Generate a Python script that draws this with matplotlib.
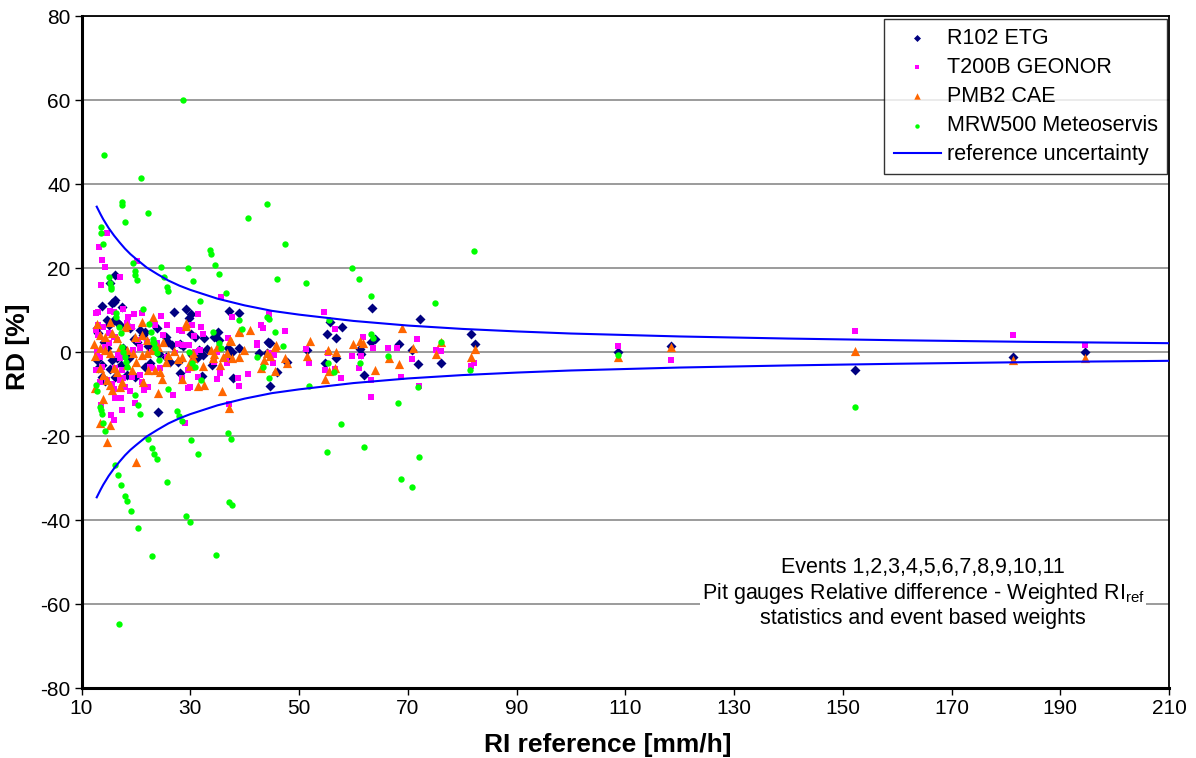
import numpy as np
import matplotlib
matplotlib.use("Agg")
import matplotlib.pyplot as plt

plt.rcParams["font.family"] = ["Liberation Sans", "DejaVu Sans"]
plt.rcParams["axes.unicode_minus"] = False

# R102 ETG (RI reference [mm/h], RD [%])
etg_ri = [13.7, 15.6, 15.9, 16.2, 16.1, 15.2, 27.1, 29.2, 30.1, 29.8, 37.2, 39.0, 35.1, 44.3, 17.4,
          12.8, 13.8, 14.4, 14.7, 15.1, 15.9, 16.5, 18.9, 20.8, 21.7, 23.8, 25.6, 25.9, 28.1, 28.7,
          30.1, 30.9, 31.6, 32.4, 35.2, 37.0, 37.6, 44.7, 28.1, 24.0, 37.8, 32.1, 18.3, 19.8, 13.1,
          13.7, 16.5, 21.7, 22.6, 25.6, 26.2, 30.3, 31.2, 33.0, 34.0, 36.7, 44.1, 45.9, 63.5, 72.2,
          55.2, 55.7, 56.8, 57.9, 81.6, 82.3, 68.3, 56.8, 54.8, 71.9, 76.2, 63.2, 63.9, 61.2, 62.0,
          47.8, 44.7, 61.4, 51.4, 70.8, 12.8, 13.1, 17.1, 20.2, 21.4, 14.7, 26.6, 27.7, 16.2, 32.5,
          34.3, 39.0, 42.6, 44.4, 14.1, 15.7, 17.7, 18.7, 19.7, 22.2, 24.2, 17.2, 15.2,
          108.7, 118.4, 152.3, 181.3, 194.5]
etg_rd = [11, 11.6, 12, 12.4, 18.3, 16.5, 9.5, 10.2, 9, 8, 9.8, 9.2, 4.8, 2.3, 10.8,
          -1.9, -5.9, -7, 7.6, 6.4, 7.6, 7.2, 5.6, 5.2, 4.8, 5.6, 3.5, 2.5, 1.8, 1.4,
          4.3, 3.5, 0.5, -0.7, 2.9, 0.9, 0.1, -8, -4.9, -14.4, -6.3, -5.7, -5.5, -5.9, -3.9,
          -3.1, -1.5, -3.5, -2.7, -1.1, -2.3, -0.7, -1.5, 0.6, -3.1, -1.7, -0.3, -4.7, 10.5, 7.9,
          4.4, 7.2, 3.4, 5.9, 4.2, 2, 1.9, -1.4, -2.7, -2.9, -2.5, 2.5, 3.1, 0.7, -5.4,
          -2.3, 2.1, -0.5, 0.5, 0.5, 5.6, 4.5, 6.4, 2.5, 4, 0.9, 1.7, -2.3, -5.9, 3.3,
          3.5, 0.9, -0.2, 2.2, 2.5, -2, 1, -1.5, 3, 1.5, -0.5, -3, -4,
          0, 1.5, -4.4, -1.3, 0]

# T200B GEONOR
geonor_ri = [14.7, 13.2, 13.7, 14.4, 13.6, 17.0, 20.2, 35.6, 12.6, 13.1, 17.6, 19.7, 21.1, 24.6, 31.4,
             37.6, 44.5, 25.8, 28.0, 28.4, 30.3, 31.9, 32.4, 43.0, 43.3, 42.3, 27.7, 30.7, 12.6, 13.4,
             16.2, 17.2, 15.4, 15.9, 17.5, 13.5, 18.9, 19.8, 21.5, 22.3, 26.8, 29.5, 30.0, 29.0, 34.9,
             38.9, 37.2, 36.7, 42.2, 45.3, 34.3, 29.6, 30.5, 27.2, 25.7, 23.8, 19.5, 20.8, 17.7, 17.1,
             14.4, 15.0, 12.6, 13.1, 15.9, 16.5, 22.9, 21.1, 17.7, 16.0, 37.0, 29.8, 30.9, 31.8, 34.9,
             36.6, 44.4, 45.4, 35.4, 31.5, 38.7, 40.7, 54.6, 56.6, 47.4, 61.8, 63.7, 66.3, 68.1, 51.2,
             59.8, 61.4, 51.9, 55.4, 54.8, 56.6, 61.0, 57.7, 63.2, 63.3, 71.7, 75.2, 76.1, 70.7, 82.1,
             81.6, 68.7, 72.0, 15.3, 15.9, 18.5, 13.1, 14.0, 18.3, 19.2, 23.5, 25.0, 15.0, 16.2,
             20.4, 22.0, 28.7, 12.8, 13.4, 20.8, 22.9, 16.8, 18.0, 13.7, 16.2, 17.4, 19.2, 20.8, 22.6,
             24.4, 28.4, 14.7, 15.6, 17.1, 18.0,
             108.7, 118.4, 152.3, 181.3, 194.5]
geonor_rd = [28.3, 24.9, 21.8, 20.3, 15.9, 17.9, 21.7, 13.2, 9.2, 9.6, 10.3, 9, 9.4, 8.6, 9,
             8.4, 9, 6.4, 5.2, 5, 6.4, 6, 4.3, 6.4, 5.6, 2.1, 1.9, 3.9, -4.3, -7.1,
             -11, -11, -15, -16.2, -13.8, -12.6, -9.4, -12.2, -9, -8.3, -10.2, -8.6, -8.3, -16.8, -6.4,
             -8.1, -12.4, -2.7, 1.7, -2.7, -2.3, -4.3, -0.3, -0.3, -1.1, 2.1, 0.5, 1.3, -0.3, -1.5,
             1.3, 2.1, 5.2, 4, 3.6, 2.9, -3.9, -7.1, -6.3, -8.9, 3.3, 1.7, 0.1, 0.5, 0.1,
             -1.3, -0.3, -0.7, -4.9, -6, -6.1, -5.3, 9.5, 5.4, 5, 3.5, 1, 0.9, 0.9, 0.7,
             -1, -0.9, -2.6, -0.3, -4.4, -4.1, -3.7, -6.1, -6.7, -10.8, 3.1, 0.5, 0.2, -1.7, -2.7,
             -3.3, -5.9, -8.1, 9.8, 9.5, 8.3, 6.4, 6, 6.8, 6, 6.4, 4, 4.5, 3.6,
             2.9, 2.5, 1.7, 0.1, -1.1, 0.9, 0.1, -0.7, -1.1, -3.6, -3.9, -4.3, -5.9, -5.5, -3.5,
             -3.9, -6.3, -6.7, -7.5, -6.7, -8.3,
             1.4, -2, 5, 4, 1.7]

# PMB2 CAE
cae_ri = [12.8, 15.3, 18.0, 18.3, 23.2, 21.1, 29.3, 29.2, 38.9, 40.9, 39.8, 37.5, 45.6, 43.5, 45.5,
          43.1, 34.9, 35.4, 34.2, 36.1, 36.7, 37.6, 35.8, 37.2, 31.5, 32.5, 28.5, 27.7, 30.5, 30.0,
          32.4, 27.1, 25.9, 25.6, 24.1, 25.0, 24.8, 24.0, 23.5, 24.4, 21.4, 22.2, 20.1, 14.7, 13.4,
          15.3, 13.9, 15.2, 15.6, 17.1, 17.4, 14.0, 14.7, 13.4, 15.9, 16.5, 18.3, 19.2, 20.1, 21.1,
          22.0, 22.9, 13.4, 14.4, 15.3, 17.1, 18.3, 19.5, 13.4, 14.4, 15.6, 16.5, 19.8, 21.1, 22.0,
          39.0, 37.3, 33.8, 34.3, 39.0, 30.5, 30.0, 28.4, 44.2, 44.6, 45.8, 52.1, 51.4, 47.4, 47.8,
          55.4, 56.8, 54.8, 55.6, 56.6, 59.9, 61.2, 61.8, 63.9, 66.6, 68.3, 68.9, 70.9, 76.1, 75.2,
          81.7, 82.3, 12.3, 12.5, 12.4,
          108.7, 118.4, 152.3, 181.3, 194.5]
cae_rd = [6.7, 7.2, 6, 6.4, 8.4, 7.2, 6.8, 6.2, 4.8, 5.2, 0.5, 2.7, 1.3, -1.9, -4.5,
          -3.9, 1.3, -3.1, -1.5, -1.1, -0.3, -1.5, -9.2, -13.3, -8.1, -7.9, -6.4, -1.7, -0.3, -3.3,
          -3.3, 0.3, -0.7, -2.3, 1.3, 2.5, -6.4, -9.8, -4.3, -4.7, -7.1, -4.3, -26.1, -21.4, -16.8,
          -17.4, -11.3, -7.9, -9, -8.4, -7.1, -5.5, -6.7, -3.9, -3.9, -4.7, -3.1, -4.3, -2.3, -0.7,
          -0.3, 0.5, 0.9, 0.5, -0.3, 1.3, 0.5, -0.3, 4, 3.6, 4.5, 3.3, 3.6, 4, 2.9,
          5.1, 2.9, 0.5, -0.5, -1.3, -1.5, -2.3, -1.1, -0.2, -1, 1.7, 2.7, -1, -1.5, -2.5,
          0.5, 0.1, -6.4, -4.5, -3.9, 1.9, 2.7, 2.1, -4.3, -1.5, -2.9, 5.8, 0.9, 2.5, -0.5,
          -1.1, 0.7, 2, -1, -8.5,
          -1.3, 1.1, 0.2, -1.9, -1.4]

# MRW500 Meteoservis
mrw_ri = [28.7, 14.2, 20.9, 17.4, 17.5, 22.2, 18.0, 13.5, 13.6, 14.0, 44.2, 40.7, 33.6, 33.9, 34.5,
          35.2, 36.6, 29.6, 30.5, 31.8, 24.6, 25.1, 25.7, 25.9, 19.4, 19.8, 19.9, 20.2, 15.0, 15.2,
          15.4, 15.4, 45.9, 21.4, 16.3, 44.1, 44.4, 38.9, 45.6, 39.6, 34.2, 47.4, 59.8, 61.0, 63.3,
          51.3, 82.1, 75.1, 55.6, 63.2, 63.7, 76.1, 47.1, 66.4, 55.3, 61.3, 56.5, 81.5, 51.9, 71.8,
          68.2, 57.7, 61.9, 55.1, 72.0, 68.7, 70.7, 16.3, 22.4, 22.7, 16.9, 17.2, 23.2, 23.3, 17.5,
          17.7, 18.0, 18.2, 18.4, 23.9, 24.2, 12.6, 12.8, 25.9, 19.8, 20.3, 13.4, 13.5, 13.7, 20.8,
          27.6, 28.0, 28.4, 14.0, 14.4, 22.3, 30.1, 37.0, 37.5, 23.0, 23.4, 23.8, 31.4, 16.1, 16.7,
          17.3, 25.8, 18.0, 18.3, 19.1, 37.1, 37.6, 29.3, 30.0, 20.4, 23.0, 34.7, 16.9, 23.1, 23.5,
          35.2, 35.6, 29.8, 30.4, 30.8, 42.3, 43.4, 44.5, 31.9,
          108.7, 152.3]
mrw_rd = [60, 47, 41.4, 35.6, 35, 33.2, 31, 29.8, 28.3, 25.6, 35.2, 31.8, 24.4, 23.3, 20.7,
          18.5, 14.1, 20, 17, 12.1, 20.3, 17.9, 15.4, 14.6, 21.3, 19.4, 18.4, 17.1, 17.9, 16.4,
          15.5, 15, 17.3, 10.2, 9.4, 8.4, 7.9, 7.6, 4.8, 5.4, 4.8, 25.8, 20.1, 17.5, 13.3,
          16.5, 24, 11.6, 7.6, 4.2, 3.3, 2.5, 1.4, -0.9, -2.7, -2.5, -4.7, -4.4, -8, -8.3,
          -12.1, -17.1, -22.5, -23.9, -25.1, -30.2, -32.1, 8.3, 6.7, 4.8, 6, 4.5, 2.5, 2.1, 1.2,
          0, -1.2, -2.4, -3.6, -0.3, -1.9, -7.9, -9.2, -8.7, -10.3, -12.5, -13, -13.8, -14.8, -14.8,
          -14, -15.2, -16.4, -17, -18.7, -20.6, -21, -19.4, -20.6, -22.9, -24.3, -25.5, -24.3, -26.8, -29.3,
          -31.7, -31, -34.4, -35.5, -37.9, -35.8, -36.4, -39, -40.4, -42, -48.6, -48.3, -64.8, 3, 1,
          2.2, 0.9, 0.1, -2.7, -3.6, -1.3, -3.6, -6.1, -6.7,
          -0.6, -13.2]

# reference uncertainty envelope (upper branch; the lower branch is its mirror)
unc_ri = [12.8, 13.5, 14, 15, 16, 17, 18, 19, 20, 22, 24, 26, 28, 30, 35, 40, 45, 50, 60,
          70, 80, 90, 100, 120, 140, 160, 185, 210]
unc_rd = [34.6, 32.8, 31.6, 29.5, 27.7, 26.1, 24.6, 23.3, 22.2, 20.1, 18.5, 17.0, 15.8, 14.8,
          12.7, 11.1, 9.8, 8.9, 7.4, 6.3, 5.5, 4.9, 4.4, 3.7, 3.2, 2.8, 2.4, 2.1]

W, H = 1196, 758
fig = plt.figure(figsize=(W / 100, H / 100), dpi=100)
ax = fig.add_axes([81.5 / W, 1 - 688 / H, (1169 - 81.5) / W, (688 - 16) / H])

ax.set_xlim(10, 210)
ax.set_ylim(-80, 80)
ax.set_xticks(np.arange(10, 211, 20))
ax.set_yticks(np.arange(-80, 81, 20))
ax.yaxis.grid(True, color="#808080", lw=1.1, zorder=0)
ax.set_axisbelow(True)

ax.scatter(etg_ri, etg_rd, marker="D", s=26, color="#000080", lw=0, label="R102 ETG", zorder=3)
ax.scatter(geonor_ri, geonor_rd, marker="s", s=24, color="#FF00FF", lw=0, label="T200B GEONOR", zorder=3)
ax.scatter(cae_ri, cae_rd, marker="^", s=44, color="#FF6600", lw=0, label="PMB2 CAE", zorder=3)
ax.scatter(mrw_ri, mrw_rd, marker="o", s=21, color="#00FF00", lw=0, label="MRW500 Meteoservis", zorder=3)
ax.plot(unc_ri, unc_rd, color="#0000FF", lw=1.5, label="reference uncertainty", zorder=4)
ax.plot(unc_ri, [-v for v in unc_rd], color="#0000FF", lw=1.5, zorder=4)

for side in ["top", "right"]:
    ax.spines[side].set_linewidth(1.3)
for side in ["left", "bottom"]:
    ax.spines[side].set_linewidth(2.2)
ax.tick_params(direction="out", length=5, width=1, labelsize=15, colors="black", pad=3)

fig.text(608 / W, 1 - 745 / H, "RI reference [mm/h]", fontsize=19, fontweight="bold",
         ha="center", va="center")
fig.text(18 / W, 1 - 347 / H, "RD [%]", fontsize=19, fontweight="bold",
         ha="center", va="center", rotation=90)

leg = ax.legend(loc="upper right", bbox_to_anchor=(0.9985, 0.996), borderaxespad=0,
                fontsize=15.5, frameon=True, fancybox=False, edgecolor="black",
                labelspacing=0.38, handlelength=2.2, handletextpad=0.3,
                scatterpoints=1, borderpad=0.42, markerscale=0.7)
leg.get_frame().set_linewidth(1)

ax.text((923 - 81.5) / (1169 - 81.5), (688 - 593) / 672,
        "Events 1,2,3,4,5,6,7,8,9,10,11\n"
        "Pit gauges Relative difference - Weighted RI$_{\\mathregular{ref}}$\n"
        "statistics and event based weights",
        transform=ax.transAxes, ha="center", va="center", fontsize=15.5,
        linespacing=1.12, zorder=5,
        bbox=dict(facecolor="white", edgecolor="none", pad=1))

fig.savefig("out.png", dpi=100)
